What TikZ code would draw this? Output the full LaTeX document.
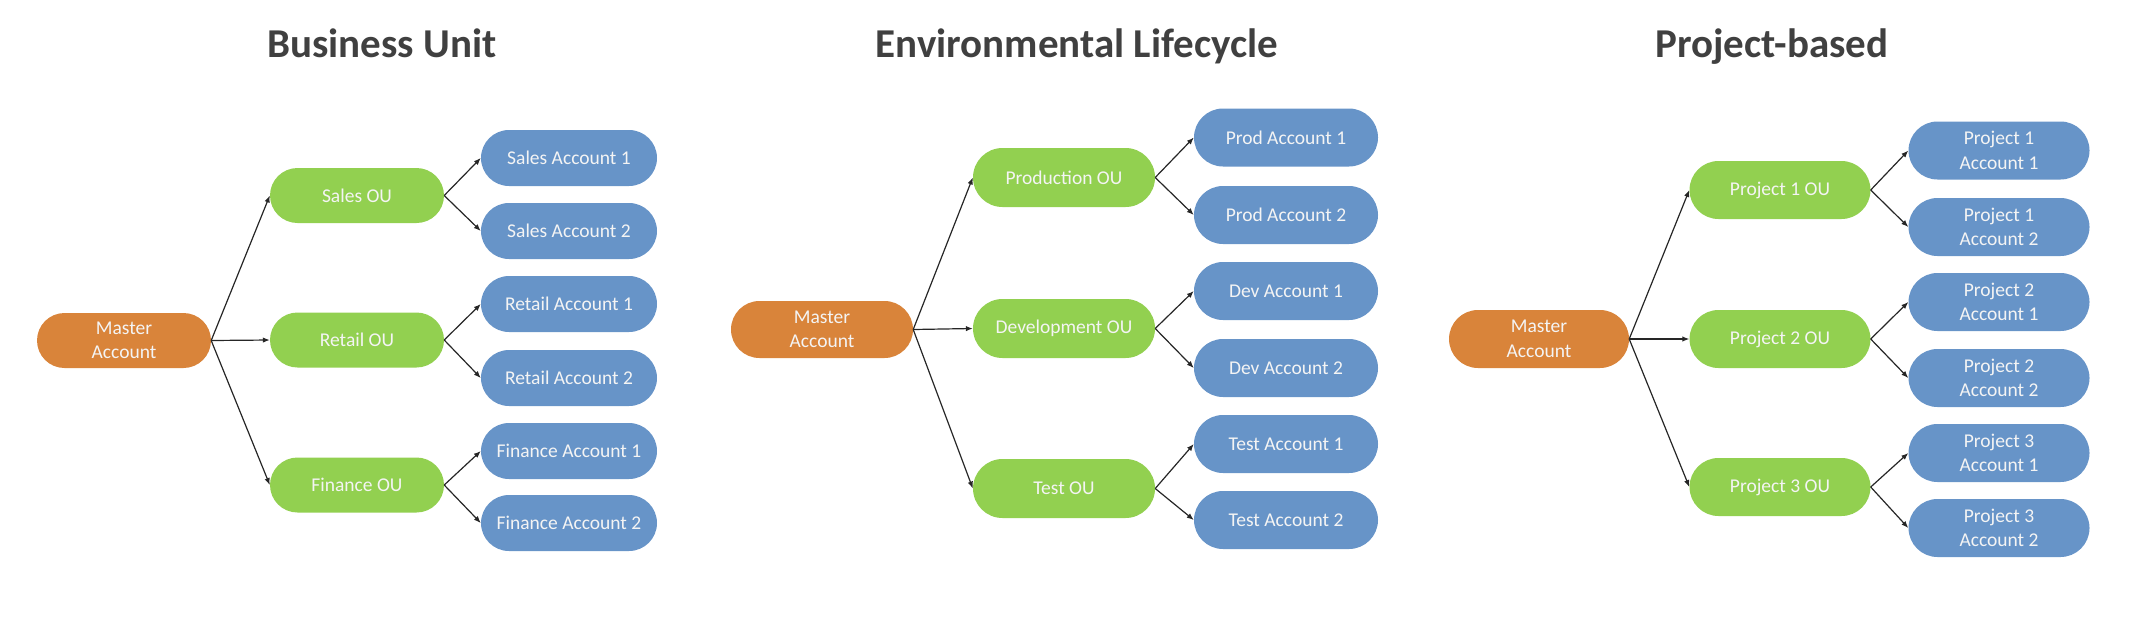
\documentclass[tikz,border=0pt]{standalone}
\usepackage{fontspec}
\setmainfont{Carlito}
\usetikzlibrary{shapes.misc,arrows.meta}
\definecolor{morange}{HTML}{D9843A}
\definecolor{ougreen}{HTML}{92D050}
\definecolor{accblue}{HTML}{6794C8}
\definecolor{titlegray}{HTML}{404040}
\definecolor{txtwhite}{HTML}{F4F4F4}
\tikzset{
  pill/.style={rounded rectangle, inner sep=0pt, draw=none, text=txtwhite,
    font=\fontsize{19.5}{24.5}\selectfont, align=center},
  masterbox/.style={pill, fill=morange},
  oubox/.style={pill, fill=ougreen},
  accbox/.style={pill, fill=accblue},
  ttl/.style={anchor=base, text=titlegray, font=\fontsize{41}{48}\selectfont\bfseries},
  conn/.style={line width=1.2pt, draw=black!85, -{Latex[length=7pt,width=5.5pt]}},
}
\begin{document}
\begin{tikzpicture}[x=1pt,y=-1pt]
\useasboundingbox (0,0) rectangle (2146,638);
% ---------- Panel 1 ----------
\node[ttl] (t1) at (382,57) {Business Unit};
\node[masterbox, minimum width=174pt, minimum height=55pt] (m1) at (124,340.5) {Master\\Account};
\begin{scope}[every node/.append style={minimum width=174pt, minimum height=55pt}]
\node[oubox] (o11) at (357,195.5) {Sales OU};
\node[oubox] (o12) at (357,340) {Retail OU};
\node[oubox] (o13) at (357,485) {Finance OU};
\end{scope}
\begin{scope}[every node/.append style={minimum width=176pt, minimum height=56pt}]
\node[accbox] (a11) at (569,158) {Sales Account 1};
\node[accbox] (a12) at (569,231) {Sales Account 2};
\node[accbox] (a13) at (569,304) {Retail Account 1};
\node[accbox] (a14) at (569,378) {Retail Account 2};
\node[accbox] (a15) at (569,451) {Finance Account 1};
\node[accbox] (a16) at (569,523) {Finance Account 2};
\end{scope}
\foreach \o in {o11,o12,o13} \draw[conn] (m1.east) -- (\o.west);
\draw[conn] (o11.east) -- (a11.west);
\draw[conn] (o11.east) -- (a12.west);
\draw[conn] (o12.east) -- (a13.west);
\draw[conn] (o12.east) -- (a14.west);
\draw[conn] (o13.east) -- (a15.west);
\draw[conn] (o13.east) -- (a16.west);
% ---------- Panel 2 ----------
\node[ttl] (t2) at (1077,57) {Environmental Lifecycle};
\node[masterbox, minimum width=182pt, minimum height=57pt] (m2) at (822,329.5) {Master\\Account};
\begin{scope}[every node/.append style={minimum width=182pt, minimum height=59pt}]
\node[oubox] (o21) at (1064,177.5) {Production OU};
\node[oubox] (o22) at (1064,328.5) {Development OU};
\node[oubox] (o23) at (1064,488.5) {Test OU};
\end{scope}
\begin{scope}[every node/.append style={minimum width=184pt, minimum height=58pt}]
\node[accbox] (a21) at (1286,137.5) {Prod Account 1};
\node[accbox] (a22) at (1286,215) {Prod Account 2};
\node[accbox] (a23) at (1286,291) {Dev Account 1};
\node[accbox] (a24) at (1286,368) {Dev Account 2};
\node[accbox] (a25) at (1286,444) {Test Account 1};
\node[accbox] (a26) at (1286,520) {Test Account 2};
\end{scope}
\foreach \o in {o21,o22,o23} \draw[conn] (m2.east) -- (\o.west);
\draw[conn] (o21.east) -- (a21.west);
\draw[conn] (o21.east) -- (a22.west);
\draw[conn] (o22.east) -- (a23.west);
\draw[conn] (o22.east) -- (a24.west);
\draw[conn] (o23.east) -- (a25.west);
\draw[conn] (o23.east) -- (a26.west);
% ---------- Panel 3 ----------
\node[ttl] (t3) at (1772,57) {Project-based};
\node[masterbox, minimum width=180pt, minimum height=58pt] (m3) at (1539,339) {Master\\Account};
\begin{scope}[every node/.append style={minimum width=181pt, minimum height=58pt}]
\node[oubox] (o31) at (1780,190) {Project 1 OU};
\node[oubox] (o32) at (1780,339) {Project 2 OU};
\node[oubox] (o33) at (1780,487) {Project 3 OU};
\node[accbox] (a31) at (1999,150.5) {Project 1\\Account 1};
\node[accbox] (a32) at (1999,227) {Project 1\\Account 2};
\node[accbox] (a33) at (1999,302) {Project 2\\Account 1};
\node[accbox] (a34) at (1999,378) {Project 2\\Account 2};
\node[accbox] (a35) at (1999,453) {Project 3\\Account 1};
\node[accbox] (a36) at (1999,528) {Project 3\\Account 2};
\end{scope}
\foreach \o in {o31,o32,o33} \draw[conn] (m3.east) -- (\o.west);
\draw[conn] (o31.east) -- (a31.west);
\draw[conn] (o31.east) -- (a32.west);
\draw[conn] (o32.east) -- (a33.west);
\draw[conn] (o32.east) -- (a34.west);
\draw[conn] (o33.east) -- (a35.west);
\draw[conn] (o33.east) -- (a36.west);
\end{tikzpicture}
\end{document}
